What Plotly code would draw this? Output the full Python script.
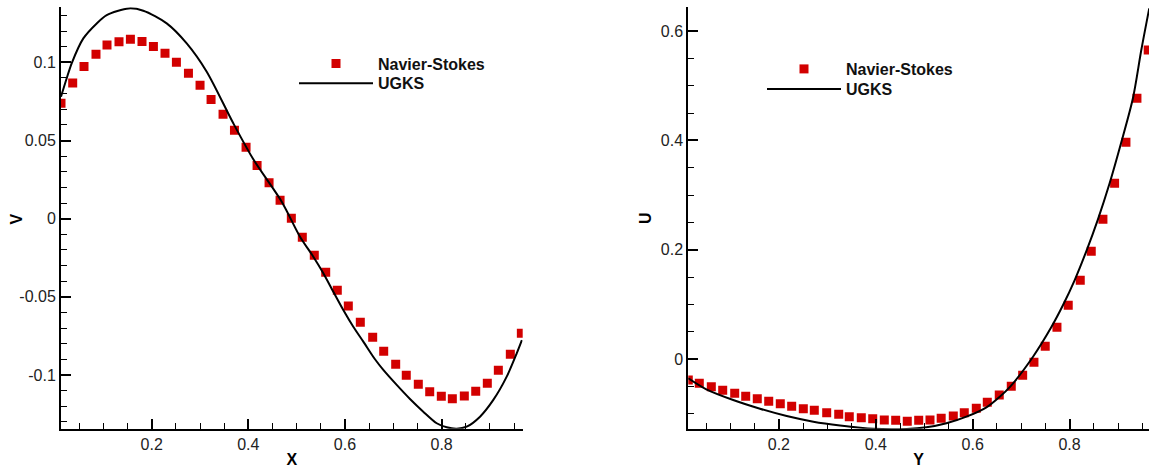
import plotly.graph_objects as go

# ---------------- data ----------------
# Left panel: V along X (Navier-Stokes squares, UGKS line)
ns_x = [0.0124, 0.0366, 0.0600, 0.0848, 0.1076, 0.1324, 0.1560, 0.1800, 0.2036, 0.2276,
        0.2512, 0.2761, 0.3001, 0.3229, 0.3477, 0.3713, 0.3953, 0.4181, 0.4429, 0.4657,
        0.4890, 0.5117, 0.5365, 0.5601, 0.5841, 0.6069, 0.6317, 0.6573, 0.6801, 0.7049,
        0.7268, 0.7517, 0.7753, 0.7993, 0.8221, 0.8469, 0.8705, 0.8945, 0.9173, 0.9421,
        0.9649]
ns_v = [0.0738, 0.0868, 0.0974, 0.1051, 0.1111, 0.1132, 0.1147, 0.1134, 0.1102, 0.1058,
        0.1000, 0.0930, 0.0853, 0.0763, 0.0668, 0.0565, 0.0457, 0.0341, 0.0230, 0.0118,
        0.0003, -0.0119, -0.0234, -0.0343, -0.0458, -0.0558, -0.0662, -0.0758, -0.0848, -0.0931,
        -0.1001, -0.1059, -0.1106, -0.1136, -0.1151, -0.1134, -0.1104, -0.1052, -0.0969, -0.0867,
        -0.0733]

ugks_x = [0.0124, 0.0242, 0.0345, 0.0586, 0.0863, 0.1070, 0.1525, 0.1827, 0.2311, 0.2725,
          0.3139, 0.3689, 0.4103, 0.4691, 0.5069, 0.5345, 0.5552, 0.5758, 0.5965, 0.6172,
          0.6379, 0.6621, 0.6793, 0.7070, 0.7345, 0.7620, 0.7898, 0.8105, 0.8312, 0.8518,
          0.8794, 0.9069, 0.9346, 0.9553, 0.9660]
ugks_v = [0.0780, 0.0898, 0.0994, 0.1153, 0.1249, 0.1302, 0.1345, 0.1330, 0.1249, 0.1121,
          0.0940, 0.0610, 0.0380, 0.0109, -0.0115, -0.0243, -0.0349, -0.0467, -0.0584, -0.0691,
          -0.0786, -0.0899, -0.0967, -0.1063, -0.1153, -0.1234, -0.1308, -0.1334, -0.1343, -0.1330,
          -0.1266, -0.1159, -0.1010, -0.0861, -0.0776]

# Right panel: U along Y
ns_y = [0.0130, 0.0357, 0.0605, 0.0840, 0.1088, 0.1315, 0.1554, 0.1790, 0.2029, 0.2264,
        0.2504, 0.2731, 0.2987, 0.3235, 0.3453, 0.3701, 0.3937, 0.4176, 0.4411, 0.4650,
        0.4886, 0.5119, 0.5350, 0.5600, 0.5827, 0.6075, 0.6302, 0.6549, 0.6797, 0.7032,
        0.7265, 0.7498, 0.7740, 0.7973, 0.8221, 0.8448, 0.8689, 0.8930, 0.9164, 0.9391,
        0.9624]
ns_u = [-0.0384, -0.0445, -0.0506, -0.0573, -0.0628, -0.0683, -0.0726, -0.0774, -0.0817, -0.0866,
        -0.0909, -0.0939, -0.0982, -0.1012, -0.1055, -0.1074, -0.1092, -0.1116, -0.1122, -0.1140,
        -0.1122, -0.1116, -0.1085, -0.1043, -0.0982, -0.0902, -0.0792, -0.0659, -0.0500, -0.0298,
        -0.0060, 0.0232, 0.0580, 0.0982, 0.1440, 0.1970, 0.2555, 0.3214, 0.3964, 0.4769,
        0.5652]

ugks_y = [0.0130, 0.0502, 0.1057, 0.1610, 0.2161, 0.2712, 0.3262, 0.3951, 0.4639, 0.5044,
          0.5458, 0.5871, 0.6284, 0.6559, 0.6780, 0.7246, 0.7622, 0.7863, 0.8104, 0.8345,
          0.8586, 0.8827, 0.9068, 0.9308, 0.9481, 0.9645]
ugks_u = [-0.0353, -0.0555, -0.0750, -0.0909, -0.1043, -0.1146, -0.1215, -0.1277, -0.1280, -0.1250,
          -0.1176, -0.1055, -0.0884, -0.0690, -0.0500, 0.0042, 0.0580, 0.0982, 0.1440, 0.1970,
          0.2555, 0.3214, 0.3964, 0.4769, 0.5652, 0.6415]

# tick labels
left_xticks = [0.2, 0.4, 0.6, 0.8]
left_xlabels = ["0.2", "0.4", "0.6", "0.8"]
left_yticks = [-0.1, -0.05, 0, 0.05, 0.1]
left_ylabels = ["-0.1", "-0.05", "0", "0.05", "0.1"]
right_xticks = [0.2, 0.4, 0.6, 0.8]
right_xlabels = ["0.2", "0.4", "0.6", "0.8"]
right_yticks = [0, 0.2, 0.4, 0.6]
right_ylabels = ["0", "0.2", "0.4", "0.6"]

RED = "#d20000"
FONT = "Liberation Sans, Arial, sans-serif"
W, H = 1150, 473


def px_x(p):
    return p / W


def px_y(p):
    return 1 - p / H


fig = go.Figure()

marker_style = dict(symbol="square", size=9, color=RED, line=dict(width=0))
line_style = dict(color="black", width=2, shape="spline", smoothing=0.8)

fig.add_trace(go.Scatter(x=ns_x, y=ns_v, mode="markers", name="Navier-Stokes",
                         marker=marker_style, xaxis="x", yaxis="y", legend="legend",
                         showlegend=True))
fig.add_trace(go.Scatter(x=ugks_x, y=ugks_v, mode="lines", name="UGKS",
                         line=line_style, xaxis="x", yaxis="y", legend="legend2",
                         showlegend=True))
fig.add_trace(go.Scatter(x=ns_y, y=ns_u, mode="markers", name="Navier-Stokes",
                         marker=marker_style, xaxis="x2", yaxis="y2", legend="legend3",
                         showlegend=True))
fig.add_trace(go.Scatter(x=ugks_y, y=ugks_u, mode="lines", name="UGKS",
                         line=line_style, xaxis="x2", yaxis="y2", legend="legend4",
                         showlegend=True))


def axis_common():
    return dict(showline=True, linecolor="black", linewidth=2, mirror=False,
                showgrid=False, zeroline=False, ticks="inside", ticklen=10,
                tickwidth=2, tickcolor="black",
                tickfont=dict(family=FONT, size=16, color="#222222"))


title_font = dict(family=FONT, size=16, color="black", weight="bold")

xa = axis_common()
xa.update(domain=[px_x(61), px_x(522.7)], range=[0.0124, 0.9677], anchor="y",
          tickmode="array", tickvals=left_xticks, ticktext=left_xlabels,
          minor=dict(dtick=0.05, tick0=0, ticks="inside", ticklen=6, tickwidth=1, tickcolor="black"),
          title=dict(text="X", font=title_font, standoff=2))
ya = axis_common()
ya.update(domain=[px_y(428.7), px_y(7.3)], range=[-0.1343, 0.1352], anchor="x",
          tickmode="array", tickvals=left_yticks, ticktext=left_ylabels,
          minor=dict(dtick=0.01, tick0=0, ticks="inside", ticklen=6, tickwidth=1, tickcolor="black"))
xa2 = axis_common()
xa2.update(domain=[px_x(688.3), px_x(1149)], range=[0.013, 0.964], anchor="y2",
           tickmode="array", tickvals=right_xticks, ticktext=right_xlabels,
           minor=dict(dtick=0.05, tick0=0, ticks="inside", ticklen=6, tickwidth=1, tickcolor="black"),
           title=dict(text="Y", font=title_font, standoff=2))
ya2 = axis_common()
ya2.update(domain=[px_y(428.7), px_y(7.3)], range=[-0.1275, 0.6434], anchor="x2",
           tickmode="array", tickvals=right_yticks, ticktext=right_ylabels,
           minor=dict(dtick=0.05, tick0=0, ticks="inside", ticklen=6, tickwidth=1, tickcolor="black"))

legfont = dict(family=FONT, size=16, color="#111111", weight="bold")


def leg(xp, yp):
    return dict(x=px_x(xp), y=px_y(yp), xanchor="left", yanchor="top",
                bgcolor="rgba(0,0,0,0)", font=legfont, itemwidth=74,
                tracegroupgap=0, borderwidth=0, visible=True)


fig.update_layout(
    width=W, height=H, margin=dict(l=0, r=0, t=0, b=0),
    paper_bgcolor="white", plot_bgcolor="white",
    showlegend=True,
    xaxis=xa, yaxis=ya, xaxis2=xa2, yaxis2=ya2,
    legend=leg(294, 46.7), legend2=leg(294, 66.3),
    legend3=leg(762, 52), legend4=leg(762, 72),
    annotations=[
        dict(text="V", x=px_x(16.7), y=px_y(218.7), xref="paper", yref="paper",
             xanchor="center", yanchor="middle", showarrow=False, textangle=-90,
             font=title_font),
        dict(text="U", x=px_x(645), y=px_y(218), xref="paper", yref="paper",
             xanchor="center", yanchor="middle", showarrow=False, textangle=-90,
             font=title_font),
    ],
)

fig.write_html("out.html", config={"displayModeBar": False},
               post_script="document.body.style.margin='0';document.body.style.padding='0';"
                           "document.body.style.overflow='hidden';")
